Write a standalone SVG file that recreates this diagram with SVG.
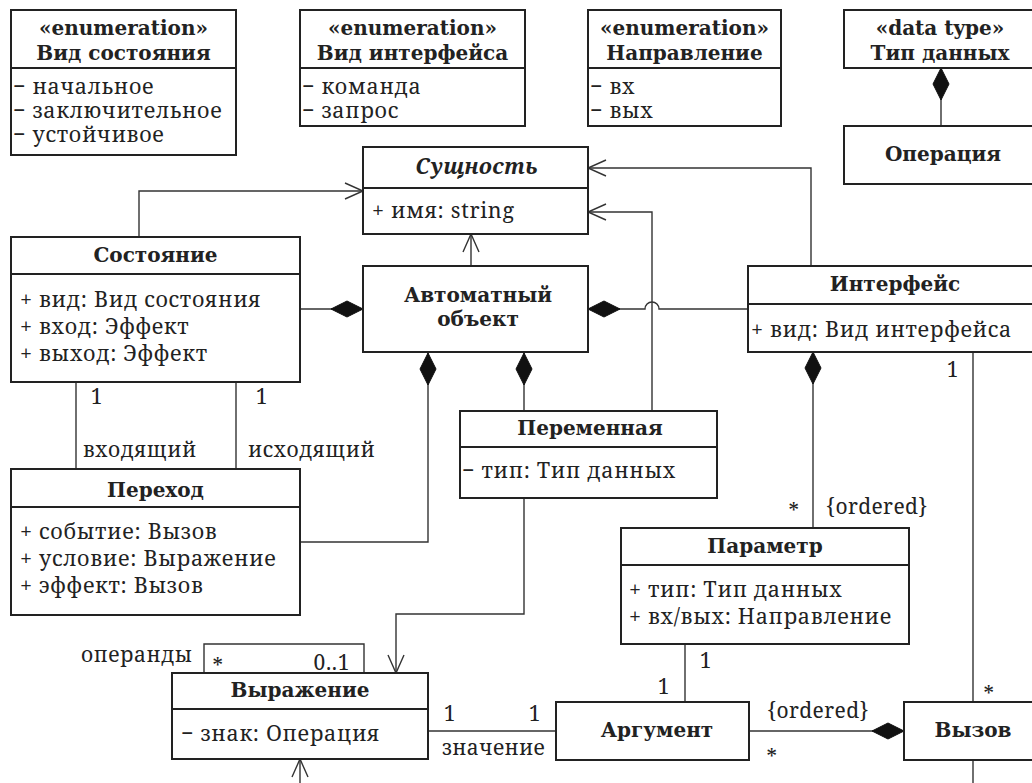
<svg xmlns="http://www.w3.org/2000/svg" width="1032" height="783" viewBox="0 0 1032 783">
<style>
text{fill:#222}
.b{font-weight:bold;text-anchor:middle}
.m{text-anchor:middle}
.e{text-anchor:end}
.box{fill:#fff;stroke:#222;stroke-width:2}
.div{stroke:#222;stroke-width:2;fill:none}
.c{fill:none;stroke:#333;stroke-width:1.4}
</style>
<defs>
<marker id="dia" markerUnits="userSpaceOnUse" markerWidth="34" markerHeight="18" viewBox="0 -9 34 18" refX="0" refY="0" orient="auto" overflow="visible">
<path d="M0,0 L16,-8 L32,0 L16,8 Z" fill="#111" stroke="#111" stroke-width="1"/>
</marker>
<marker id="arr" markerUnits="userSpaceOnUse" markerWidth="20" markerHeight="20" viewBox="-20 -10 20 20" refX="0" refY="0" orient="auto" overflow="visible">
<path d="M-18,-8 L0,0 L-18,8" fill="none" stroke="#333" stroke-width="1.4"/>
</marker>
</defs>
<rect width="1032" height="783" fill="#fff"/>

<g id="connectors">
<path class="c" d="M139,237 V191 H363" marker-end="url(#arr)"/>
<path class="c" d="M471,266 V234" marker-end="url(#arr)"/>
<path class="c" d="M652,411 V212 H588" marker-end="url(#arr)"/>
<path class="c" d="M811,292 V168 H588" marker-end="url(#arr)"/>
<path class="c" d="M363,309 H300" marker-start="url(#dia)"/>
<path class="c" d="M588,309 H645 A7,7 0 0 1 659,309 H748" marker-start="url(#dia)"/>
<path class="c" d="M428,353 V542 H300" marker-start="url(#dia)"/>
<path class="c" d="M524,353 V411" marker-start="url(#dia)"/>
<path class="c" d="M76,382 V469"/>
<path class="c" d="M236,382 V469"/>
<path class="c" d="M813,352 V528" marker-start="url(#dia)"/>
<path class="c" d="M973,352 V702"/>
<path class="c" d="M685,644 V702"/>
<path class="c" d="M904,731 H749" marker-start="url(#dia)"/>
<path class="c" d="M428,731 H556"/>
<path class="c" d="M524,498 V614 H396 V673" marker-end="url(#arr)"/>
<path class="c" d="M204,673 V644 H364 V673"/>
<path class="c" d="M300,790 V759" marker-end="url(#arr)"/>
<path class="c" d="M973,760 V790"/>
<path class="c" d="M941,68 V126" marker-start="url(#dia)"/>
</g>

<g font-family="Noto Serif, Liberation Serif, serif" font-size="21.5" letter-spacing="0.7">
<g id="labels" font-size="21" letter-spacing="0.6">
<text x="97" y="404" class="m">1</text>
<text x="262" y="404" class="m">1</text>
<text x="83" y="457">входящий</text>
<text x="248" y="457">исходящий</text>
<text x="953" y="377" class="m">1</text>
<text x="794" y="519" class="m">*</text>
<text x="826" y="514" letter-spacing="0.4">{ordered}</text>
<text x="706" y="668" class="m">1</text>
<text x="664" y="694" class="m">1</text>
<text x="818" y="718" class="m" letter-spacing="0.4">{ordered}</text>
<text x="772" y="765" class="m">*</text>
<text x="989" y="702" class="m">*</text>
<text x="535" y="721" class="m">1</text>
<text x="450" y="721" class="m">1</text>
<text x="442" y="755" letter-spacing="0.4">значение</text>
<text x="81" y="662">операнды</text>
<text x="218" y="674" class="m">*</text>
<text x="350" y="670" class="e">0..1</text>
</g>

<g id="enum-vid-sostoyaniya">
<rect class="box" x="11" y="10" width="225" height="145"/>
<line class="div" x1="11" y1="68" x2="236" y2="68"/>
<text x="123.5" y="35" class="b" font-family="DejaVu Serif, serif" font-size="20" letter-spacing="0">«enumeration»</text>
<text x="123.5" y="60" class="b" font-family="DejaVu Serif, serif" font-size="20" letter-spacing="0">Вид состояния</text>
<text x="13" y="94">− начальное</text>
<text x="13" y="118">− заключительное</text>
<text x="13" y="142">− устойчивое</text>
</g>

<g id="enum-vid-interfeisa">
<rect class="box" x="300" y="10" width="225" height="116"/>
<line class="div" x1="300" y1="68" x2="525" y2="68"/>
<text x="412.5" y="35" class="b" font-family="DejaVu Serif, serif" font-size="20" letter-spacing="0">«enumeration»</text>
<text x="412.5" y="60" class="b" font-family="DejaVu Serif, serif" font-size="20" letter-spacing="0">Вид интерфейса</text>
<text x="302" y="94">− команда</text>
<text x="302" y="118">− запрос</text>
</g>

<g id="enum-napravlenie">
<rect class="box" x="588" y="10" width="193" height="116"/>
<line class="div" x1="588" y1="68" x2="781" y2="68"/>
<text x="684.5" y="35" class="b" font-family="DejaVu Serif, serif" font-size="20" letter-spacing="0">«enumeration»</text>
<text x="684.5" y="60" class="b" font-family="DejaVu Serif, serif" font-size="20" letter-spacing="0">Направление</text>
<text x="590" y="94">− вх</text>
<text x="590" y="118">− вых</text>
</g>

<g id="tip-dannyh">
<rect class="box" x="844" y="10" width="192" height="58"/>
<text x="940" y="35" class="b" font-family="DejaVu Serif, serif" font-size="20" letter-spacing="0">«data type»</text>
<text x="940" y="60" class="b" font-family="DejaVu Serif, serif" font-size="20" letter-spacing="0">Тип данных</text>
</g>

<g id="operaciya">
<rect class="box" x="844" y="126" width="192" height="58"/>
<text x="943" y="161" class="b" font-family="DejaVu Serif, serif" font-size="20" letter-spacing="0">Операция</text>
</g>

<g id="sushchnost">
<rect class="box" x="363" y="147" width="225" height="87"/>
<line class="div" x1="363" y1="188" x2="588" y2="188"/>
<text x="477" y="174" class="b" font-style="italic" font-size="21.5" letter-spacing="0.6">Сущность</text>
<text x="372" y="218">+ имя: string</text>
</g>

<g id="sostoyanie">
<rect class="box" x="11" y="237" width="289" height="145"/>
<line class="div" x1="11" y1="274" x2="300" y2="274"/>
<text x="155.5" y="262" class="b" font-family="DejaVu Serif, serif" font-size="20" letter-spacing="0">Состояние</text>
<text x="20" y="307">+ вид: Вид состояния</text>
<text x="20" y="334">+ вход: Эффект</text>
<text x="20" y="361">+ выход: Эффект</text>
</g>

<g id="avtomatnyi-obekt">
<rect class="box" x="363" y="266" width="225" height="86"/>
<text x="478" y="302" class="b" font-family="DejaVu Serif, serif" font-size="20" letter-spacing="0">Автоматный</text>
<text x="478" y="326" class="b" font-family="DejaVu Serif, serif" font-size="20" letter-spacing="0">объект</text>
</g>

<g id="interfeis">
<rect class="box" x="748" y="266" width="292" height="86"/>
<line class="div" x1="748" y1="304" x2="1040" y2="304"/>
<text x="895" y="291" class="b" font-family="DejaVu Serif, serif" font-size="20" letter-spacing="0">Интерфейс</text>
<text x="751" y="337">+ вид: Вид интерфейса</text>
</g>

<g id="peremennaya">
<rect class="box" x="460" y="411" width="257" height="87"/>
<line class="div" x1="460" y1="447" x2="717" y2="447"/>
<text x="590" y="435" class="b" font-family="DejaVu Serif, serif" font-size="20" letter-spacing="0">Переменная</text>
<text x="462" y="478">− тип: Тип данных</text>
</g>

<g id="perehod">
<rect class="box" x="11" y="469" width="289" height="146"/>
<line class="div" x1="11" y1="507" x2="300" y2="507"/>
<text x="155.5" y="497" class="b" font-family="DejaVu Serif, serif" font-size="20" letter-spacing="0">Переход</text>
<text x="20" y="539">+ событие: Вызов</text>
<text x="20" y="566">+ условие: Выражение</text>
<text x="20" y="593">+ эффект: Вызов</text>
</g>

<g id="parametr">
<rect class="box" x="621" y="528" width="288" height="116"/>
<line class="div" x1="621" y1="565" x2="909" y2="565"/>
<text x="765" y="553" class="b" font-family="DejaVu Serif, serif" font-size="20" letter-spacing="0">Параметр</text>
<text x="629" y="597">+ тип: Тип данных</text>
<text x="629" y="624">+ вх/вых: Направление</text>
</g>

<g id="vyrazhenie">
<rect class="box" x="172" y="673" width="256" height="86"/>
<line class="div" x1="172" y1="709" x2="428" y2="709"/>
<text x="300" y="697" class="b" font-family="DejaVu Serif, serif" font-size="20" letter-spacing="0">Выражение</text>
<text x="181" y="741">− знак: Операция</text>
</g>

<g id="argument">
<rect class="box" x="556" y="702" width="193" height="58"/>
<text x="657" y="737" class="b" font-family="DejaVu Serif, serif" font-size="20" letter-spacing="0">Аргумент</text>
</g>

<g id="vyzov">
<rect class="box" x="904" y="702" width="136" height="58"/>
<text x="973" y="737" class="b" font-family="DejaVu Serif, serif" font-size="20" letter-spacing="0">Вызов</text>
</g>
</g>
</svg>
